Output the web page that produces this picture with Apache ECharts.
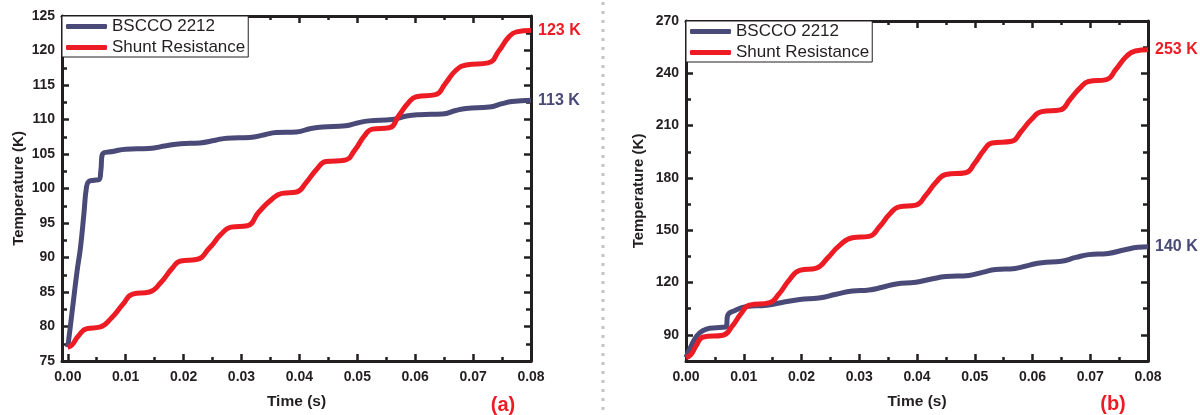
<!DOCTYPE html>
<html>
<head>
<meta charset="utf-8">
<script src="https://cdn.jsdelivr.net/npm/echarts@6/dist/echarts.min.js"></script>
<style>
  html, body { margin: 0; padding: 0; background: #fff; }
  #chart { width: 1200px; height: 415px; }
</style>
</head>
<body>
<div id="chart"></div>
<script>
    // (a) BSCCO 2212 [time s, temperature K]
    var bsccoA = [
        [0, 77], [0.0008, 82.5], [0.0016, 88], [0.0022, 91.5], [0.0028, 96.5], [0.0032, 100],
        [0.0036, 101], [0.0045, 101.2], [0.0054, 101.3], [0.0057, 102.5], [0.0060, 105],
        [0.0080, 105.4], [0.0100, 105.7], [0.0140, 105.8], [0.0170, 106.2], [0.0195, 106.5],
        [0.0228, 106.6], [0.0255, 107.0], [0.0275, 107.3], [0.0314, 107.4], [0.0340, 107.8],
        [0.0360, 108.1], [0.0395, 108.2], [0.0420, 108.7], [0.0440, 108.9], [0.0480, 109.1],
        [0.0500, 109.5], [0.0520, 109.8], [0.0560, 110.0], [0.0585, 110.5], [0.0607, 110.7],
        [0.0647, 110.8], [0.0670, 111.3], [0.0688, 111.6], [0.0728, 111.8], [0.0750, 112.3],
        [0.0767, 112.6], [0.0800, 112.8]
    ];
    // (a) shunt resistance
    var shuntA = [
        [0, 77], [0.0007, 77.3], [0.0018, 78.6], [0.0033, 79.7], [0.0055, 79.9], [0.0075, 81.2],
        [0.0095, 83.2], [0.0112, 84.7], [0.0141, 85.0], [0.0160, 86.3], [0.0180, 88.4],
        [0.0195, 89.5], [0.0222, 89.7], [0.0245, 91.4], [0.0265, 93.4], [0.0282, 94.4],
        [0.0310, 94.6], [0.0330, 96.6], [0.0352, 98.4], [0.0370, 99.3], [0.0395, 99.5],
        [0.0412, 100.9], [0.0430, 102.8], [0.0446, 103.9], [0.0478, 104.1], [0.0496, 105.6],
        [0.0512, 107.6], [0.0526, 108.6], [0.0555, 108.8], [0.0572, 110.6], [0.0588, 112.4],
        [0.0602, 113.3], [0.0635, 113.6], [0.0652, 115.2], [0.0670, 117.1], [0.0688, 117.9],
        [0.0726, 118.2], [0.0745, 120.0], [0.0762, 122.0], [0.0775, 122.7], [0.0800, 122.9]
    ];
    // (b) BSCCO 2212
    var bsccoB = [
        [0, 77], [0.0008, 83], [0.0019, 89.5], [0.0030, 92.5], [0.0041, 93.8], [0.0064, 94.3],
        [0.0070, 95], [0.0072, 101], [0.0085, 104], [0.0105, 106.2], [0.0140, 107.0],
        [0.0170, 108.8], [0.0197, 110.3], [0.0230, 111.1], [0.0260, 113.3], [0.0288, 115.1],
        [0.0317, 115.7], [0.0340, 117.3], [0.0364, 119.2], [0.0398, 120.2], [0.0425, 122],
        [0.0450, 123.4], [0.0490, 124.1], [0.0515, 126], [0.0536, 127.5], [0.0570, 128.1],
        [0.0595, 130], [0.0616, 131.4], [0.0650, 132.2], [0.0675, 134.4], [0.0697, 136],
        [0.0731, 136.7], [0.0760, 138.8], [0.0783, 140.2], [0.0800, 140.5]
    ];
    // (b) shunt resistance
    var shuntB = [
        [0, 77], [0.0008, 78.5], [0.0018, 84], [0.0030, 88.8], [0.0064, 89.8], [0.0080, 95],
        [0.0095, 102], [0.0110, 107], [0.0145, 108.5], [0.0160, 113], [0.0180, 122],
        [0.0197, 127], [0.0226, 128.3], [0.0245, 134], [0.0265, 141], [0.0288, 145.7],
        [0.0317, 146.5], [0.0335, 152], [0.0352, 159], [0.0369, 163.4], [0.0398, 164.4],
        [0.0415, 170], [0.0433, 177.5], [0.0450, 182], [0.0484, 183], [0.0500, 188.5],
        [0.0515, 195.5], [0.0530, 200], [0.0564, 201], [0.0580, 206.5], [0.0598, 213.5],
        [0.0616, 218], [0.0648, 219], [0.0665, 225], [0.0682, 231.5], [0.0697, 235.3],
        [0.0728, 236.4], [0.0745, 242.5], [0.0762, 249.5], [0.0778, 252.8], [0.0800, 253.5]
    ];
    var seriesNames = ['BSCCO 2212', 'Shunt Resistance'];
    var endLabelsA = ['113 K', '123 K'];
    var endLabelsB = ['140 K', '253 K'];
    var panelLabels = ['(a)', '(b)'];

    var FONT = "'Liberation Sans', Arial, sans-serif";
    var INK = '#231f20';
    var NAVY = '#4a4a78';
    var RED = '#ed1c24';

    var chart = echarts.init(document.getElementById('chart'));

    function xAx(grid, pos, min, opts) {
        var ax = {
            gridIndex: grid, type: 'value', position: pos, min: min, max: 0.08,
            axisLine: { show: true, onZero: false, lineStyle: { color: INK, width: 3 } },
            axisTick: { show: true, inside: true, length: 7, lineStyle: { color: INK, width: 2.5 } },
            minorTick: { show: true, splitNumber: 2, length: 4, lineStyle: { color: INK, width: 2.5 } },
            splitLine: { show: false },
            axisLabel: { show: pos === 'bottom', showMinLabel: min === 0, color: INK, fontFamily: FONT,
                fontWeight: 'bold', fontSize: 14, margin: 9,
                formatter: function (v) { return v.toFixed(2); } }
        };
        if (pos === 'bottom') {
            ax.name = 'Time (s)';
            ax.nameLocation = 'middle';
            ax.nameGap = 33;
            ax.nameTextStyle = { color: INK, fontFamily: FONT, fontWeight: 'bold', fontSize: 15.5 };
        }
        return Object.assign(ax, opts);
    }

    function yAx(grid, pos, min, max, opts, gap) {
        var ax = {
            gridIndex: grid, type: 'value', position: pos, min: min, max: max,
            axisLine: { show: true, onZero: false, lineStyle: { color: INK, width: 3 } },
            axisTick: { show: true, inside: true, length: 7, lineStyle: { color: INK, width: 2.5 } },
            minorTick: { show: true, splitNumber: 2, length: 5, lineStyle: { color: INK, width: 2.5 } },
            splitLine: { show: false },
            axisLabel: { show: pos === 'left', showMinLabel: grid === 0, color: INK, fontFamily: FONT,
                fontWeight: 'bold', fontSize: 14, margin: 7 }
        };
        if (pos === 'left') {
            ax.name = 'Temperature (K)';
            ax.nameLocation = 'middle';
            ax.nameGap = gap;
            ax.nameTextStyle = { color: INK, fontFamily: FONT, fontWeight: 'bold', fontSize: 15 };
        }
        return Object.assign(ax, opts);
    }

    function lineSeries(name, data, xi, yi, color, label) {
        return {
            name: name, type: 'line', xAxisIndex: xi, yAxisIndex: yi, data: data,
            showSymbol: false, smooth: 0.5,
            lineStyle: { color: color, width: 5 },
            itemStyle: { color: color },
            endLabel: { show: true, formatter: label, color: color, fontFamily: FONT,
                fontWeight: 'bold', fontSize: 16, distance: 7 }
        };
    }

    function legendAt(left, top) {
        return {
            data: seriesNames, orient: 'vertical', left: left, top: top,
            icon: 'roundRect', itemWidth: 41, itemHeight: 5, itemGap: 4,
            padding: [2, 3, 1, 4], borderColor: INK, borderWidth: 1, backgroundColor: '#fff',
            textStyle: { color: INK, fontFamily: FONT, fontSize: 17, lineHeight: 17 }
        };
    }

    var option = {
        animation: false,
        grid: [
            { left: 62, top: 16, width: 469, height: 347 },
            { left: 686, top: 21, width: 462, height: 341 }
        ],
        xAxis: [
            xAx(0, 'bottom', -0.001, { splitNumber: 8 }),
            xAx(0, 'top', -0.001, { splitNumber: 8 }),
            xAx(1, 'bottom', 0, { interval: 0.01 }),
            xAx(1, 'top', 0, { interval: 0.01 })
        ],
        yAxis: [
            yAx(0, 'left', 75, 125, { interval: 5 }, 36),
            yAx(0, 'right', 75, 125, { interval: 5 }),
            yAx(1, 'left', 75, 270, { splitNumber: 7 }, 40),
            yAx(1, 'right', 75, 270, { splitNumber: 7 })
        ],
        legend: [legendAt(62, 16), legendAt(686, 21)],
        series: [
            lineSeries(seriesNames[0], bsccoA, 0, 0, NAVY, endLabelsA[0]),
            lineSeries(seriesNames[1], shuntA, 0, 0, RED, endLabelsA[1]),
            lineSeries(seriesNames[0], bsccoB, 2, 2, NAVY, endLabelsB[0]),
            lineSeries(seriesNames[1], shuntB, 2, 2, RED, endLabelsB[1])
        ],
        graphic: [
            { type: 'line', shape: { x1: 603, y1: 2, x2: 603, y2: 415 },
              style: { stroke: '#c4c4c4', lineWidth: 3, lineDash: [3, 6] } },
            { type: 'text', x: 503, y: 405, style: { text: panelLabels[0], fill: RED, font: "bold 20px " + FONT,
              textAlign: 'center', textVerticalAlign: 'middle' } },
            { type: 'text', x: 1113, y: 404, style: { text: panelLabels[1], fill: RED, font: "bold 20px " + FONT,
              textAlign: 'center', textVerticalAlign: 'middle' } }
        ]
    };
    chart.setOption(option);
</script>
</body>
</html>
